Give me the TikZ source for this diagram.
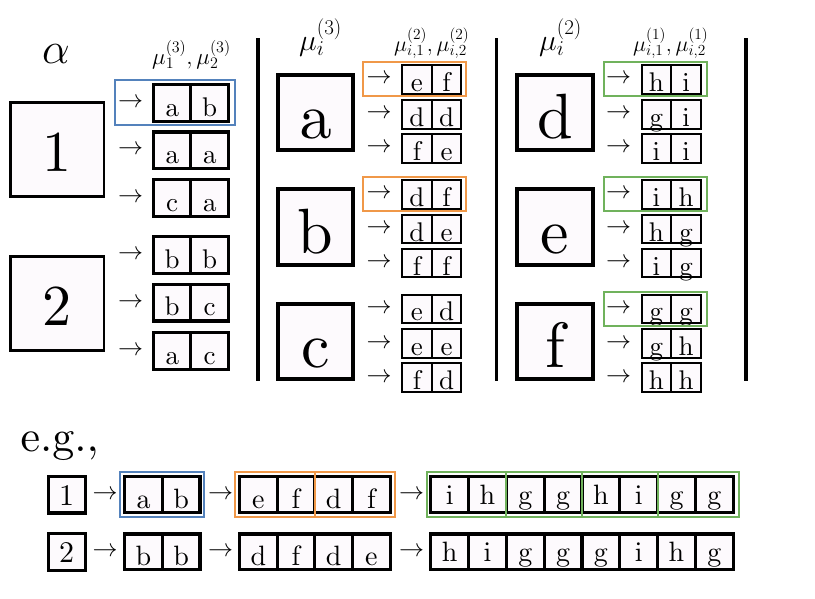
\RequirePackage{fix-cm}
\documentclass[tikz,border=0pt]{standalone}
\DeclareFontFamily{OT1}{cmrx}{}
\DeclareFontShape{OT1}{cmrx}{m}{n}{<->cmr10}{}
\definecolor{hlblue}{RGB}{84,130,188}
\definecolor{hlorange}{RGB}{240,152,72}
\definecolor{hlgreen}{RGB}{112,178,92}
\definecolor{boxfill}{RGB}{253,250,253}
\newcommand\fs[1]{\fontencoding{OT1}\fontfamily{cmrx}\fontsize{#1}{#1}\selectfont}
\tikzset{
 bigbox/.style={draw, fill=boxfill, line width=2.6pt, minimum width=93.5pt, minimum height=93.5pt, inner sep=0pt, font=\fs{58}, text height=44pt, text depth=0pt},
 letbox/.style={draw, fill=boxfill, line width=4pt, minimum width=75.3pt, minimum height=75.3pt, inner sep=0pt, font=\fs{64}, text height=52pt, text depth=0pt},
 cellL/.style={draw, fill=boxfill, line width=3.2pt, minimum width=37.5pt, minimum height=36.8pt, inner sep=0pt, font=\fs{27}, text height=26.6pt, text depth=0pt},
 cellS/.style={draw, fill=boxfill, line width=2pt, minimum width=29.6pt, minimum height=28.7pt, inner sep=0pt, font=\fs{27}, text height=24pt, text depth=0pt},
 cellB/.style={draw, fill=boxfill, line width=3.2pt, minimum width=37.7pt, minimum height=35.5pt, inner sep=0pt, font=\fs{28}, text height=28pt, text depth=0pt},
 cellW/.style={cellB, minimum width=37.8pt, text height=19.6pt},
 numbox/.style={draw, fill=boxfill, line width=3.2pt, minimum width=36.8pt, minimum height=36.8pt, inner sep=0pt, font=\fs{30}, text height=21.4pt, text depth=0pt},
 arr/.style={inner sep=0pt, font=\fs{25}},
 hl/.style={line width=2pt},
 divider/.style={line width=3.5pt},
 lab/.style={inner sep=0pt, anchor=base west},
}
% #1 style, #2 name, #3 arrow x, #4 pair x, #5 half cell, #6 y, #7 left, #8 right
\newcommand\prow[8]{%
 \node[arr] (#2r) at (#3,#6) {$\rightarrow$};
 \node[#1] (#2a) at (#4-#5,#6) {#7};
 \node[#1] (#2b) at (#4+#5,#6) {#8};}
\begin{document}
\begin{tikzpicture}[x=1pt,y=-1pt]
\useasboundingbox (0,0) rectangle (815,598);

% dividers
\draw[divider] (258,38) -- (258,381);
\draw[divider] (496.5,38) -- (496.5,381);
\draw[divider] (746,38) -- (746,381);

% ---------- left column
\node[font=\fs{44}, inner sep=0pt] (alpha) at (56,54) {$\alpha$};
\node[lab, font=\fs{23}] (labL) at (152,64) {$\mu_1^{(3)},\mu_2^{(3)}$};
\node[bigbox] (n1) at (57.3,149.5) {1};
\node[bigbox] (n2) at (57.3,303.5) {2};
\prow{cellL}{p11}{130.5}{190.8}{18.75}{102.7}{a}{b}
\prow{cellL}{p12}{130.5}{190.8}{18.75}{150.3}{a}{a}
\prow{cellL}{p13}{130.5}{190.8}{18.75}{198}{c}{a}
\prow{cellL}{p21}{130.5}{190.8}{18.75}{255}{b}{b}
\prow{cellL}{p22}{130.5}{190.8}{18.75}{302.5}{b}{c}
\prow{cellL}{p23}{130.5}{190.8}{18.75}{351}{a}{c}
\draw[hl, hlblue] (115,80.3) rectangle (234.7,125);

% ---------- middle column
\node[lab, font=\fs{30}] (labM1) at (299,50) {$\mu_i^{(3)}$};
\node[lab, font=\fs{22}] (labM2) at (394,51) {$\mu_{i,1}^{(2)},\mu_{i,2}^{(2)}$};
\node[letbox] (na) at (315.3,112.2) {a};
\node[letbox] (nb) at (315.3,227) {b};
\node[letbox] (nc) at (315.3,341.7) {c};
\prow{cellS}{pa1}{379.2}{431.7}{14.8}{79.4}{e}{f}
\prow{cellS}{pa2}{379.2}{431.7}{14.8}{114.2}{d}{d}
\prow{cellS}{pa3}{379.2}{431.7}{14.8}{148.2}{f}{e}
\prow{cellS}{pb1}{379.2}{431.7}{14.8}{194.2}{d}{f}
\prow{cellS}{pb2}{379.2}{431.7}{14.8}{229}{d}{e}
\prow{cellS}{pb3}{379.2}{431.7}{14.8}{263}{f}{f}
\prow{cellS}{pc1}{379.2}{431.7}{14.8}{308.9}{e}{d}
\prow{cellS}{pc2}{379.2}{431.7}{14.8}{343.7}{e}{e}
\prow{cellS}{pc3}{379.2}{431.7}{14.8}{377.7}{f}{d}
\draw[hl, hlorange] (363.3,62.4) rectangle (465.7,96);
\draw[hl, hlorange] (363.3,177.2) rectangle (465.7,210.8);

% ---------- right column
\node[lab, font=\fs{30}] (labR1) at (539,50) {$\mu_i^{(2)}$};
\node[lab, font=\fs{22}] (labR2) at (633,51) {$\mu_{i,1}^{(1)},\mu_{i,2}^{(1)}$};
\node[letbox] (nd) at (555,112.2) {d};
\node[letbox] (ne) at (555,227) {e};
\node[letbox] (nf) at (555,341.7) {f};
\prow{cellS}{pd1}{618.5}{671.2}{14.8}{79.4}{h}{i}
\prow{cellS}{pd2}{618.5}{671.2}{14.8}{114.2}{g}{i}
\prow{cellS}{pd3}{618.5}{671.2}{14.8}{148.2}{i}{i}
\prow{cellS}{pe1}{618.5}{671.2}{14.8}{194.2}{i}{h}
\prow{cellS}{pe2}{618.5}{671.2}{14.8}{229}{h}{g}
\prow{cellS}{pe3}{618.5}{671.2}{14.8}{263}{i}{g}
\prow{cellS}{pf1}{618.5}{671.2}{14.8}{308.9}{g}{g}
\prow{cellS}{pf2}{618.5}{671.2}{14.8}{343.7}{g}{h}
\prow{cellS}{pf3}{618.5}{671.2}{14.8}{377.7}{h}{h}
\draw[hl, hlgreen] (604.3,62.4) rectangle (707.3,96);
\draw[hl, hlgreen] (604.3,177.2) rectangle (707.3,210.8);
\draw[hl, hlgreen] (604.3,291.9) rectangle (707.3,325.5);

% ---------- example
\node[lab, font=\fs{44}] (eg) at (20.5,451) {e.g.,};
\foreach \row/\yy/\num/\la/\lb/\lc/\ld/\le/\lf/\lg/\lh/\li/\lj/\lk/\ll/\lm/\ln in
 {1/494.5/1/a/b/e/f/d/f/i/h/g/g/h/i/g/g, 2/551.7/2/b/b/d/f/d/e/h/i/g/g/g/i/h/g}{
 \node[numbox] (x\row) at (66.7,\yy) {\num};
 \node[arr] (x\row r1) at (105,\yy) {$\rightarrow$};
 \node[cellB] (x\row u1) at (143.35,\yy) {\la};
 \node[cellB] (x\row u2) at (181.05,\yy) {\lb};
 \node[arr] (x\row r2) at (220.5,\yy) {$\rightarrow$};
 \node[cellB] (x\row v1) at (258.3,\yy) {\lc};
 \node[cellB] (x\row v2) at (296.0,\yy) {\ld};
 \node[cellB] (x\row v3) at (333.7,\yy) {\le};
 \node[cellB] (x\row v4) at (371.4,\yy) {\lf};
 \node[arr] (x\row r3) at (411.7,\yy) {$\rightarrow$};
 \node[cellW] (x\row w1) at (449.7,\yy) {\lg};
 \node[cellW] (x\row w2) at (487.5,\yy) {\lh};
 \node[cellW] (x\row w3) at (525.3,\yy) {\li};
 \node[cellW] (x\row w4) at (563.1,\yy) {\lj};
 \node[cellW] (x\row w5) at (600.9,\yy) {\lk};
 \node[cellW] (x\row w6) at (638.7,\yy) {\ll};
 \node[cellW] (x\row w7) at (676.5,\yy) {\lm};
 \node[cellW] (x\row w8) at (714.3,\yy) {\ln};
}
\draw[hl, hlblue] (120.3,471.7) rectangle (204,517.3);
\draw[hl, hlorange] (235.3,471.7) rectangle (314.85,517.3);
\draw[hl, hlorange] (314.85,471.7) rectangle (395,517.3);
\draw[hl, hlgreen] (427,471.7) rectangle (506.4,517.3);
\draw[hl, hlgreen] (506.4,471.7) rectangle (582,517.3);
\draw[hl, hlgreen] (582,471.7) rectangle (657.6,517.3);
\draw[hl, hlgreen] (657.6,471.7) rectangle (739,517.3);
\end{tikzpicture}
\end{document}
